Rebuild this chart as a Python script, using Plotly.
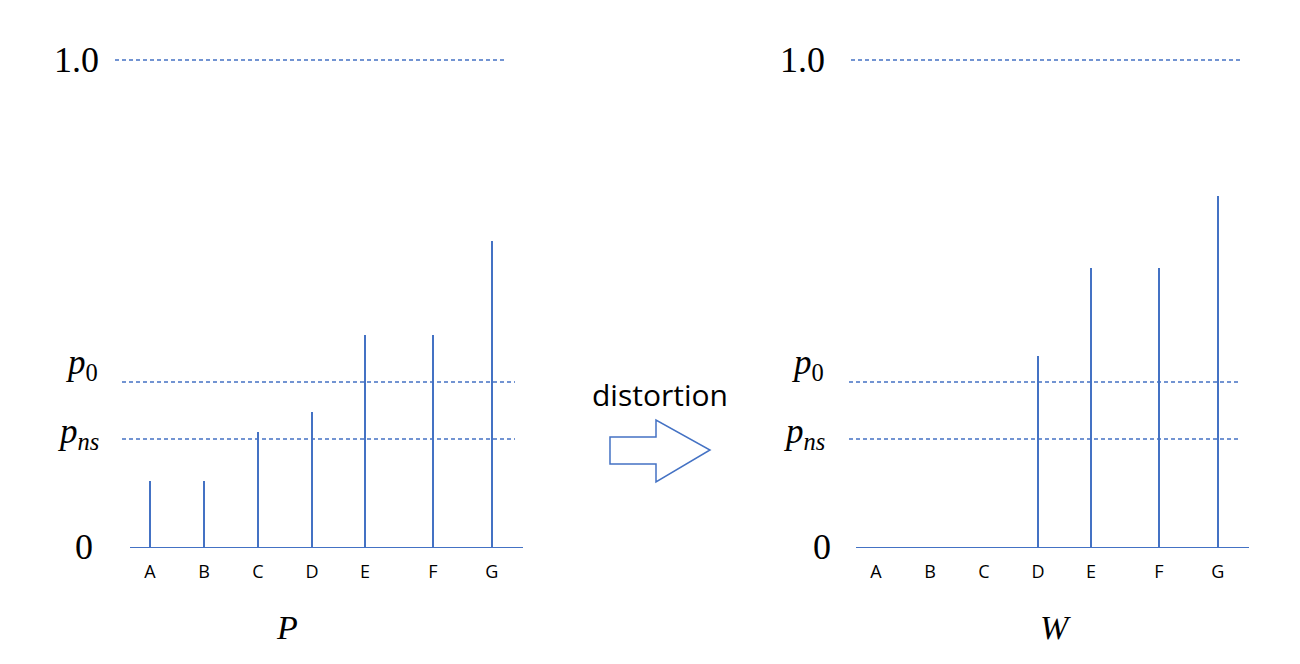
"""Probability distortion sketch: P vs W stick charts with p0 / p_ns thresholds."""

import plotly.graph_objects as go

# the page body adds an 8px margin, so the figure is 8px smaller and
# pixel positions below are given in window coordinates
PAD = 8
W_PX, H_PX = 1300 - PAD, 664 - PAD
BLUE = "#4472C4"
SERIF = "Liberation Serif"
SANS = "Open Sans"

categories = ["A", "B", "C", "D", "E", "F", "G"]
p_values = [0.135, 0.135, 0.236, 0.277, 0.435, 0.435, 0.628]
w_values = [0.0, 0.0, 0.0, 0.392, 0.573, 0.573, 0.721]
p0 = 0.339
p_ns = 0.222
top = 1.0

# slot positions along each axis (spacing is uneven in the original sketch)
slots = [0, 1, 2, 3, 3.98, 5.24, 6.33]


def px(x):
    return (x - PAD) / W_PX


def py(y):
    return 1 - (y - PAD) / H_PX


fig = go.Figure()
for vals, xa in [(p_values, "x"), (w_values, "x2")]:
    fig.add_trace(
        go.Bar(
            x=slots,
            y=vals,
            width=0.016,
            marker=dict(color=BLUE, line=dict(width=0)),
            xaxis=xa,
            yaxis="y" if xa == "x" else "y2",
            hoverinfo="skip",
        )
    )

xrange = [-0.37, 6.907]
axis_common = dict(
    range=xrange,
    tickvals=slots,
    ticktext=categories,
    showline=True,
    linecolor=BLUE,
    linewidth=1.2,
    showgrid=False,
    zeroline=False,
    ticks="",
    ticklabelstandoff=8,
    automargin=False,
    tickfont=dict(family=SANS, size=18, color="#000"),
    fixedrange=True,
)
# y = 0 sits on the x-axis line at pixel row 547, 1.0 at row 60
yaxis_common = dict(range=[0, (547 - 8) / (547 - 60)], visible=False, domain=[py(547), py(8)],
                    automargin=False, fixedrange=True)

fig.update_layout(
    width=W_PX,
    height=H_PX,
    margin=dict(l=0, r=0, t=0, b=0),
    paper_bgcolor="white",
    plot_bgcolor="white",
    showlegend=False,
    bargap=0,
    xaxis=dict(domain=[px(130), px(523)], anchor="y", **axis_common),
    xaxis2=dict(domain=[px(856), px(1249)], anchor="y2", **axis_common),
    yaxis=dict(anchor="x", **yaxis_common),
    yaxis2=dict(anchor="x2", **yaxis_common),
)

# dashed threshold lines (pixel extents per panel)
line_spans = [
    ("y", top, 115, 507),
    ("y", p0, 122, 515),
    ("y", p_ns, 122, 515),
    ("y2", top, 851, 1241),
    ("y2", p0, 849, 1241),
    ("y2", p_ns, 849, 1241),
]
for yref, level, x0, x1 in line_spans:
    fig.add_shape(
        type="line",
        xref="paper",
        yref=yref,
        x0=px(x0),
        x1=px(x1),
        y0=level,
        y1=level,
        line=dict(color=BLUE, width=1.5, dash="4px,3px"),
    )

# level labels
labels = [
    ("y", top, 76, "1.0"),
    ("y", 0, 84, "0"),
    ("y2", top, 802, "1.0"),
    ("y2", 0, 822, "0"),
]
for yref, level, x, text in labels:
    fig.add_annotation(
        x=px(x), y=level, xref="paper", yref=yref, text=text, showarrow=False,
        font=dict(family=SERIF, size=36, color="black"), xanchor="center", yanchor="middle",
    )

sym_labels = [(81, 364, "<i>p</i><sub>0</sub>"), (78, 433, "<i>p<sub>ns</sub></i>"),
              (807, 364, "<i>p</i><sub>0</sub>"), (804, 433, "<i>p<sub>ns</sub></i>")]
for x, y, text in sym_labels:
    fig.add_annotation(
        x=px(x), y=py(y), xref="paper", yref="paper", text=text, showarrow=False,
        font=dict(family=SERIF, size=35, color="black"), xanchor="center", yanchor="middle",
    )

for x, text in [(287, "<i>P</i>"), (1055, "<i>W</i>")]:
    fig.add_annotation(
        x=px(x), y=py(627), xref="paper", yref="paper", text=text, showarrow=False,
        font=dict(family=SERIF, size=34, color="black"), xanchor="center", yanchor="middle",
    )

fig.add_annotation(
    x=px(660), y=py(394), xref="paper", yref="paper", text="distortion", showarrow=False,
    font=dict(family=SANS, size=30, color="black"), xanchor="center", yanchor="middle",
)

# hollow block arrow
arrow_pts = [(610, 437), (656, 437), (656, 420), (710, 450), (656, 482), (656, 464), (610, 464)]
path = "M " + " L ".join(f"{px(x):.5f},{py(y):.5f}" for x, y in arrow_pts) + " Z"
fig.add_shape(type="path", xref="paper", yref="paper", path=path,
              line=dict(color=BLUE, width=1.5), fillcolor="white")

fig.write_html("out.html")
